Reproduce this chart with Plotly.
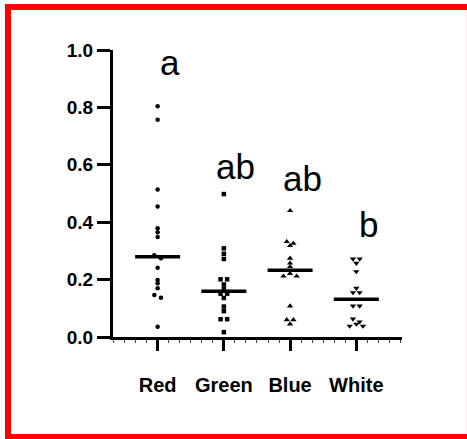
import plotly.graph_objects as go
import numpy as np

categories = ["Red", "Green", "Blue", "White"]
red_vals = [0.804, 0.757, 0.514, 0.455, 0.379, 0.365, 0.348, 0.285, 0.274, 0.241,
            0.199, 0.187, 0.170, 0.146, 0.137, 0.036]
green_vals = [0.498, 0.309, 0.290, 0.272, 0.201, 0.201, 0.183, 0.168, 0.151, 0.151,
              0.136, 0.106, 0.090, 0.062, 0.062, 0.017]
blue_vals = [0.440, 0.332, 0.326, 0.318, 0.274, 0.257, 0.245, 0.221, 0.212, 0.212,
             0.108, 0.060, 0.060, 0.045]
white_vals = [0.272, 0.272, 0.257, 0.228, 0.170, 0.155, 0.155, 0.108, 0.108,
              0.063, 0.053, 0.045, 0.038, 0.038]
letters = ["a", "ab", "ab", "b"]
letter_y = [0.909, 0.547, 0.506, 0.344]
y_ticks = [0.0, 0.2, 0.4, 0.6, 0.8, 1.0]

series = [red_vals, green_vals, blue_vals, white_vals]
symbols = ["circle", "square", "triangle-up", "triangle-down"]
sizes = [4.5, 4.5, 5.5, 5.5]


def swarm_offsets(vals, thr=0.0115, d=0.1):
    order = sorted(range(len(vals)), key=lambda i: -vals[i])
    rows = []
    for i in order:
        if rows and abs(vals[rows[-1][0]] - vals[i]) < thr:
            rows[-1].append(i)
        else:
            rows.append([i])
    off = [0.0] * len(vals)
    for row in rows:
        n = len(row)
        if n % 2 == 1:
            pattern = [0.0]
            k = 1
            while len(pattern) < n:
                pattern += [-k * d, k * d]
                k += 1
        else:
            pattern = []
            k = 0
            while len(pattern) < n:
                pattern += [-(k + 0.5) * d, (k + 0.5) * d]
                k += 1
        for j, i in enumerate(row):
            off[i] = pattern[j]
    return off


fig = go.Figure()
for ci, vals in enumerate(series):
    offs = swarm_offsets(vals)
    fig.add_trace(go.Scatter(
        x=[ci + o for o in offs], y=vals, mode="markers",
        marker=dict(symbol=symbols[ci], size=sizes[ci], color="black",
                    line=dict(width=0)),
        showlegend=False, hoverinfo="y"))
    med = float(np.median(vals))
    fig.add_trace(go.Scatter(
        x=[ci - 0.34, ci + 0.34], y=[med, med], mode="lines",
        line=dict(color="black", width=3.5), showlegend=False, hoverinfo="skip"))

for ci, (t, ly) in enumerate(zip(letters, letter_y)):
    fig.add_annotation(x=ci + 0.18, y=ly, text=t, showarrow=False,
                       xref="x", yref="y", yanchor="bottom", yshift=-8,
                       font=dict(family="Arial, Liberation Sans", size=35, color="black"))

# red frame
fig.add_shape(type="rect", xref="paper", yref="paper",
              x0=-0.3633, x1=1.235, y0=-0.3484, y1=1.1498,
              line=dict(color="#ff0000", width=6), fillcolor="rgba(0,0,0,0)")

fig.update_layout(
    width=467, height=439,
    margin=dict(l=113, r=65, t=50, b=102),
    paper_bgcolor="white", plot_bgcolor="white",
    font=dict(family="Arial, Liberation Sans", color="black"),
    xaxis=dict(range=[-0.674, 3.69], tickvals=list(range(4)), ticktext=categories,
               showgrid=False, zeroline=False, showline=True, linecolor="black",
               linewidth=3, ticks="outside", ticklen=11, tickwidth=3,
               tickcolor="black", ticklabelstandoff=17,
               tickfont=dict(size=20, weight="bold"),
               minor=dict(dtick=1 / 6, tick0=0, ticks="outside", ticklen=3,
                          tickwidth=1, tickcolor="#444")),
    yaxis=dict(range=[0, 1], tickvals=y_ticks, ticktext=[f"{v:.1f}" for v in y_ticks],
               showgrid=False, zeroline=False, showline=True, linecolor="black",
               linewidth=3, ticks="outside", ticklen=13, tickwidth=3,
               tickcolor="black", tickfont=dict(size=19, weight="bold")),
)

fig.write_html("out.html")
